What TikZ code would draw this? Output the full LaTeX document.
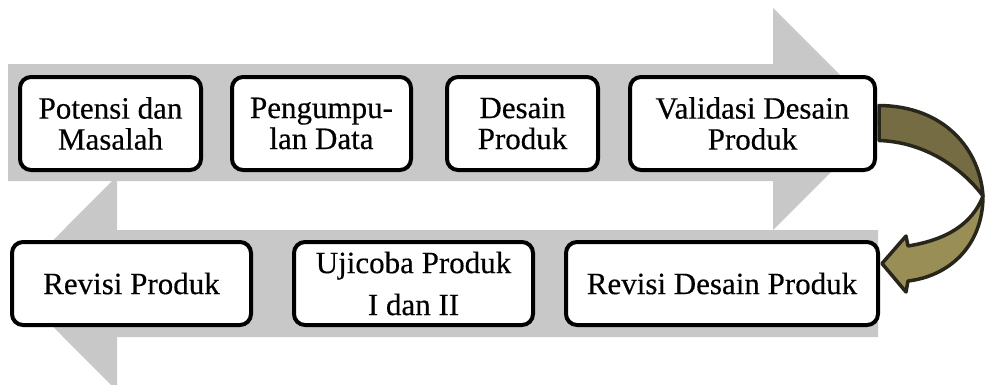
\documentclass[tikz,border=0pt]{standalone}
\usepackage{fontspec}
\setmainfont{Liberation Serif}
\newfontfamily\boxfont[FakeBold=0.4]{Liberation Serif}
\usetikzlibrary{positioning,calc}
\definecolor{bandgray}{RGB}{200,200,200}
\definecolor{olivedark}{RGB}{118,108,68}
\definecolor{olivelight}{RGB}{153,142,86}
\definecolor{oliveedge}{RGB}{40,38,26}
\begin{document}
\begin{tikzpicture}[x=1pt,y=-1pt,
    box/.style={draw,rounded corners=11pt,line width=4pt,fill=white,align=center,inner sep=0pt,font=\boxfont\fontsize{31}{31}\selectfont},
    toprow/.style={box,minimum height=93pt},
    lowrow/.style={box,minimum height=83pt},
    band/.style={fill=bandgray},
    uturn/.style={draw=oliveedge,line width=3.5pt,line join=round}
  ]
  \useasboundingbox (0,0) rectangle (986,384);
  \clip (0,0) rectangle (986,384);
  % grey arrows behind the boxes
  \fill[band] (8,64) -- (773,64) -- (773,8) -- (884,119) -- (773,230) -- (773,181) -- (8,181) -- cycle;
  \fill[band] (878,230) -- (117,230) -- (117,176) -- (10,283.5) -- (117,391) -- (117,337) -- (878,337) -- cycle;
  % top row
  \node[toprow,minimum width=181pt] (potensi) at (110.5,123.5) {Potensi dan\\Masalah};
  \node[toprow,minimum width=179pt] (kumpul) at (321.5,123.5) {Pengumpu-\\lan Data};
  \node[toprow,minimum width=151pt] (desain) at (522.5,123.5) {Desain\\Produk};
  \node[toprow,minimum width=245pt] (valid) at (752.5,123.5) {Validasi Desain\\Produk};
  % bottom row
  \node[lowrow,minimum width=239pt] (revprod) at (131.5,283.5) {Revisi Produk};
  \node[lowrow,minimum width=239pt] (ujicoba) at (413.5,283.5) {Ujicoba Produk\\[11pt]I dan II};
  \node[lowrow,minimum width=312pt] (revdes) at (722,283.5) {Revisi Desain Produk};
  % curved arrow from validasi to revisi desain
  \path[uturn,fill=olivedark] ($(valid.east)+(2,-18)$) .. controls (945,106) and (980,150) .. (983,196)
    .. controls (962,168) and (925,142) .. ($(valid.east)+(2,17)$) -- cycle;
  \path[uturn,fill=olivelight] (983,196) .. controls (983,245) and (950,276) .. (908,281) -- (906,292)
    -- ($(revdes.east)+(2,-20)$) -- (906,236) -- (908,246) .. controls (945,240) and (972,225) .. (983,196) -- cycle;
\end{tikzpicture}
\end{document}
